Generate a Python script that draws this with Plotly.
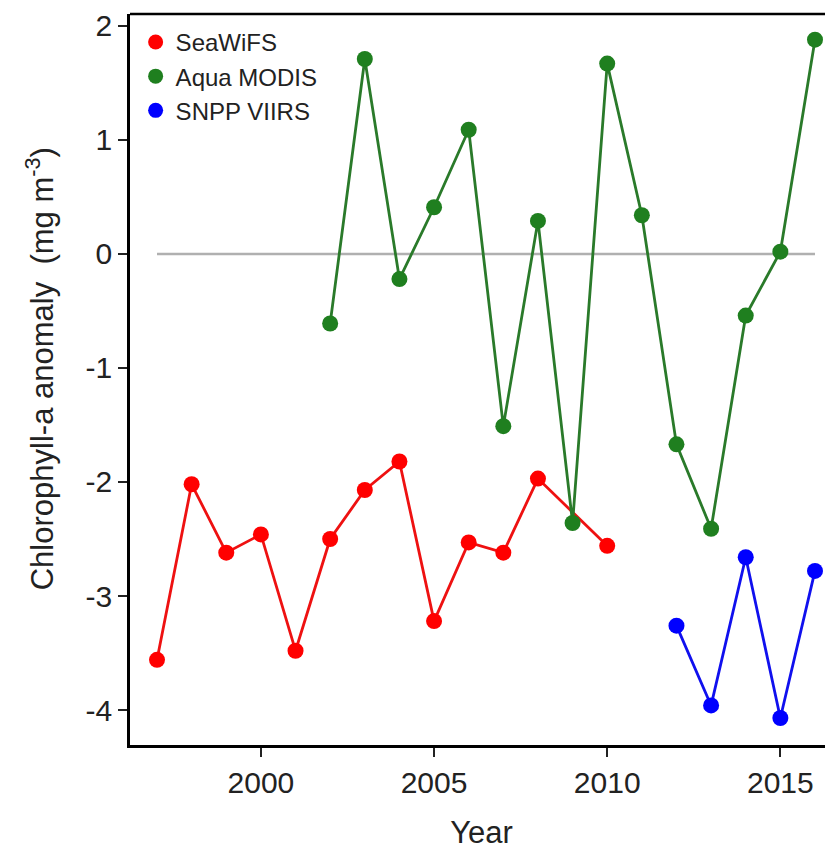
import plotly.graph_objects as go

# ---- data ----
seawifs_years = [1997, 1998, 1999, 2000, 2001, 2002, 2003, 2004, 2005, 2006, 2007, 2008, 2010]
seawifs_vals = [-3.56, -2.02, -2.62, -2.46, -3.48, -2.50, -2.07, -1.82, -3.22, -2.53, -2.62, -1.97, -2.56]

modis_years = [2002, 2003, 2004, 2005, 2006, 2007, 2008, 2009, 2010, 2011, 2012, 2013, 2014, 2015, 2016]
modis_vals = [-0.61, 1.71, -0.22, 0.41, 1.09, -1.51, 0.29, -2.36, 1.67, 0.34, -1.67, -2.41, -0.54, 0.02, 1.88]

viirs_years = [2012, 2013, 2014, 2015, 2016]
viirs_vals = [-3.26, -3.96, -2.66, -4.07, -2.78]

zero_years = [1997, 2016]
zero_vals = [0, 0]

x_ticks = [2000, 2005, 2010, 2015]
x_labels = ["2000", "2005", "2010", "2015"]
y_ticks = [-4, -3, -2, -1, 0, 1, 2]
y_labels = ["-4", "-3", "-2", "-1", "0", "1", "2"]

names = ["SeaWiFS", "Aqua MODIS", "SNPP VIIRS"]
colors = ["#ff0000", "#1f7f1f", "#0000ff"]
line_colors = ["#ee1111", "#2a7a2a", "#1010ee"]

FONT = "Liberation Sans, Arial, sans-serif"
TXT = "#222222"

fig = go.Figure()
fig.add_trace(go.Scatter(x=zero_years, y=zero_vals, mode="lines",
                         line=dict(color="#b0b0b0", width=2.5),
                         showlegend=False, hoverinfo="skip"))

series = [(seawifs_years, seawifs_vals), (modis_years, modis_vals), (viirs_years, viirs_vals)]
for (xs, ys), nm, c, lc in zip(series, names, colors, line_colors):
    fig.add_trace(go.Scatter(x=xs, y=ys, mode="lines+markers", name=nm,
                             line=dict(color=lc, width=2.8),
                             marker=dict(color=c, size=16),
                             showlegend=False))
# legend entries (marker only)
for nm, c in zip(names, colors):
    fig.add_trace(go.Scatter(x=[None], y=[None], mode="markers", name=nm,
                             marker=dict(color=c, size=15), showlegend=True))

fig.update_layout(
    width=825, height=842,
    margin=dict(l=122, r=0, t=6, b=105, autoexpand=False),
    paper_bgcolor="white", plot_bgcolor="white",
    font=dict(family=FONT, color=TXT),
    showlegend=True,
    legend=dict(x=0.008, y=0.992, xanchor="left", yanchor="top",
                font=dict(size=24, family=FONT, color=TXT),
                bgcolor="rgba(0,0,0,0)", itemwidth=30, tracegroupgap=0),
    xaxis=dict(range=[1996.22, 2016.52], tickmode="array", tickvals=x_ticks, ticktext=x_labels,
               showgrid=False, zeroline=False, showline=True, linecolor="black",
               linewidth=2.5, ticks="outside", ticklen=9, tickwidth=2, tickcolor=TXT,
               tickfont=dict(size=30, family=FONT, color=TXT), automargin=False,
               title=dict(text="Year", font=dict(size=31, family=FONT, color=TXT),
                          standoff=26)),
    yaxis=dict(range=[-4.307, 2.105], tickmode="array", tickvals=y_ticks, ticktext=y_labels,
               showgrid=False, zeroline=False, showline=True, linecolor="black",
               linewidth=2.5, ticks="outside", ticklen=9, tickwidth=2, tickcolor=TXT,
               tickfont=dict(size=30, family=FONT, color=TXT), automargin=False),
    annotations=[dict(text="Chlorophyll-a anomaly  (mg m<sup>-3</sup>)",
                      xref="paper", yref="paper", x=-90 / 703, y=0.514,
                      xanchor="center", yanchor="middle", textangle=-90, showarrow=False,
                      font=dict(size=31, family=FONT, color=TXT))],
    shapes=[dict(type="line", xref="paper", yref="paper", x0=0, x1=1, y0=1, y1=1,
                 line=dict(color="black", width=2.5))],
)

fig.write_html("out.html")
